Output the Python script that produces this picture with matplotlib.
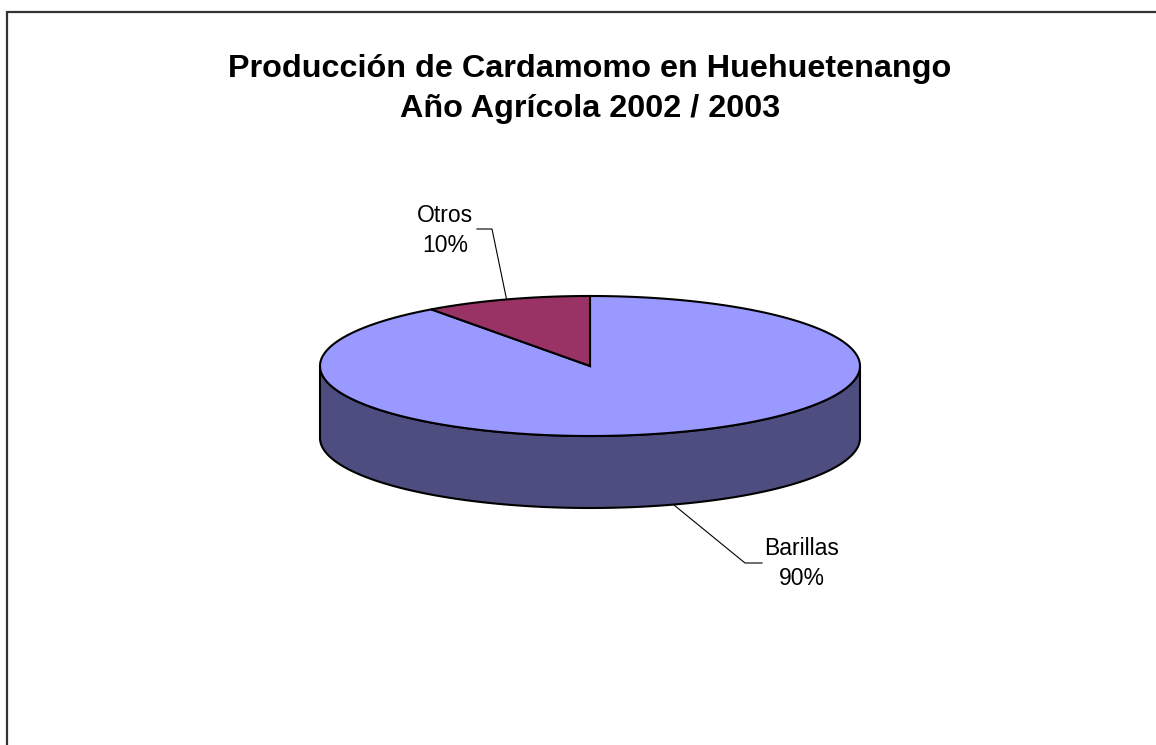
import numpy as np
import matplotlib.pyplot as plt
from matplotlib.patches import Polygon

# data
labels = ["Barillas", "Otros"]
values = [90, 10]
title_lines = ["Producción de Cardamomo en Huehuetenango", "Año Agrícola 2002 / 2003"]

top_colors = ["#9999FF", "#993366"]
side_colors = ["#4D4D80", "#4D1A33"]

W, H = 1156, 745
fig = plt.figure(figsize=(W / 100, H / 100), dpi=100)
ax = fig.add_axes([0, 0, 1, 1])
ax.set_xlim(0, W)
ax.set_ylim(H, 0)
ax.axis("off")

# pie geometry (pixels)
cx, cy = 590, 366
a, b = 270, 70
depth = 72


def pt(theta_deg, dy=0.0):
    t = np.radians(theta_deg)
    return cx + a * np.cos(t), cy - b * np.sin(t) + dy


# slices start at 12 o'clock and run clockwise (Excel style)
fracs = np.array(values, dtype=float) / sum(values)
starts = 90 - np.concatenate([[0], np.cumsum(fracs)[:-1]]) * 360
ends = starts - fracs * 360

# side walls, front half only (screen bottom = angles -180..0)
for s, e, sc in zip(starts, ends, side_colors):
    for k in (-360, 0, 360):
        l2, h2 = max(e + k, -180), min(s + k, 0)
        if h2 > l2:
            th = np.linspace(l2, h2, 200)
            xs, ys = pt(th)
            poly = np.concatenate([np.column_stack([xs, ys]),
                                   np.column_stack([xs, ys + depth])[::-1]])
            ax.add_patch(Polygon(poly, closed=True, fc=sc, ec="black", lw=1.5, zorder=2))

# top faces
for s, e, tc in zip(starts, ends, top_colors):
    th = np.linspace(e, s, 300)
    xs, ys = pt(th)
    poly = np.concatenate([[[cx, cy]], np.column_stack([xs, ys])])
    ax.add_patch(Polygon(poly, closed=True, fc=tc, ec="black", lw=1.5, zorder=3))

# labels with leader lines
mids = (starts + ends) / 2
label_pos = {"Barillas": (802, 555, 30), "Otros": (445, 222, 30)}
elbows = {"Barillas": [(745, 563), (762, 563)], "Otros": [(492, 229), (477, 229)]}
for lab, v, m in zip(labels, values, mids):
    x0, y0 = pt(m)
    if np.sin(np.radians(m)) < 0:
        y0 += depth
    (x1, y1), (x2, y2) = elbows[lab]
    ax.plot([x0, x1, x2], [y0, y1, y2], color="black", lw=0.8, zorder=4)
    lx, ly, gap = label_pos[lab]
    ax.text(lx, ly, lab, ha="center", va="baseline", fontsize=16.5,
            family="Liberation Sans", color="black")
    ax.text(lx, ly + gap, f"{v}%", ha="center", va="baseline", fontsize=16.5,
            family="Liberation Sans", color="black")

# title
for i, line in enumerate(title_lines):
    ax.text(590, 77 + 40 * i, line, ha="center", va="baseline", fontsize=23.3,
            fontweight="bold", family="Liberation Sans")

# chart area border (left and top edges visible)
ax.plot([6.5, 6.5, W], [H, 11.5, 11.5], color="#333333", lw=1.6,
        solid_joinstyle="miter", zorder=5)

fig.savefig("out.png", dpi=100)
